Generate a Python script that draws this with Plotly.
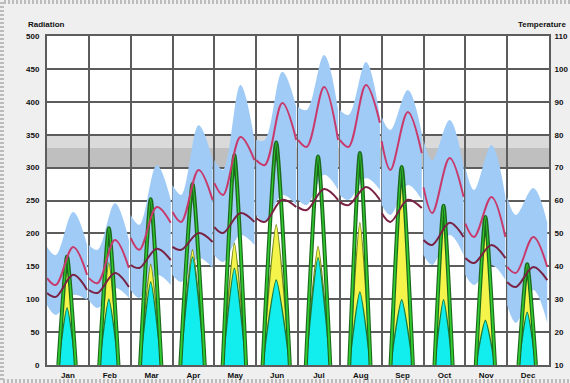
import plotly.graph_objects as go

MONTHS = ["Jan", "Feb", "Mar", "Apr", "May", "Jun",
          "Jul", "Aug", "Sep", "Oct", "Nov", "Dec"]

# Average-day temperatures (deg F) at hours 0, 5, 15 and 23 of each month
TEMP_HOURS = [0, 5, 15, 23]
DRY_BULB = [
    [36.4, 34.3, 45.9, 37.4], [36.4, 34.9, 48.0, 39.5], [48.6, 45.0, 58.0, 53.2],
    [56.5, 53.5, 69.3, 60.2], [65.3, 61.7, 79.3, 72.3], [72.3, 70.8, 89.6, 78.4],
    [78.4, 76.3, 94.5, 78.4], [78.4, 76.3, 95.1, 83.6], [78.0, 69.3, 86.9, 74.4],
    [64.0, 56.2, 72.9, 61.1], [53.0, 48.9, 61.1, 48.9], [39.8, 38.0, 48.9, 39.8],
]
WET_BULB = [
    [31.9, 30.7, 37.4, 32.8], [32.8, 31.9, 38.0, 33.7], [40.4, 39.5, 45.3, 41.9],
    [45.9, 45.0, 50.1, 47.4], [51.9, 50.1, 56.2, 53.5], [54.7, 53.5, 60.2, 58.0],
    [58.0, 57.1, 63.5, 60.2], [59.5, 58.6, 64.1, 60.2], [56.2, 53.5, 60.2, 57.7],
    [48.0, 46.5, 53.2, 48.9], [42.5, 41.0, 46.5, 42.5], [35.2, 33.7, 39.8, 35.8],
]
TEMP_HIGH = [
    [45.9, 43.4, 56.5, 46.5], [46.5, 45.0, 59.2, 48.0], [55.6, 52.6, 70.8, 60.2],
    [64.7, 61.7, 82.9, 72.3], [72.3, 69.3, 95.1, 78.4], [78.4, 78.4, 99.1, 88.4],
    [88.4, 87.5, 104.2, 87.5], [87.5, 86.0, 102.1, 85.4], [85.4, 81.4, 93.6, 80.5],
    [78.4, 72.3, 84.5, 70.2], [70.2, 63.2, 76.9, 61.1], [61.1, 55.6, 63.8, 53.2],
]
TEMP_LOW = [
    [28.2, 25.2, 31.3, 29.8], [29.8, 27.3, 33.4, 30.4], [32.8, 30.4, 37.4, 34.3],
    [37.4, 35.2, 42.5, 39.5], [43.4, 41.3, 49.5, 46.5], [55.6, 53.5, 61.7, 58.6],
    [60.2, 58.6, 67.8, 63.2], [61.7, 60.2, 66.8, 63.2], [58.6, 55.6, 64.7, 60.2],
    [43.4, 40.4, 49.5, 43.4], [37.4, 34.3, 40.4, 35.8], [28.2, 22.8, 32.8, 22.8],
]

# Hourly radiation (Btu/sq.ft) at solar noon, with sunrise / sunset hours
NOON_HOUR = 11.5
SUNRISE = [6.5, 6.0, 5.4, 4.5, 4.8, 3.7, 4.5, 5.4, 5.1, 6.3, 6.0, 6.5]
SUNSET = [16.5, 17.0, 17.6, 18.5, 18.2, 19.3, 18.5, 17.6, 17.9, 16.7, 17.0, 16.5]
DIRECT_NORMAL = [165, 208, 252, 275, 319, 338, 317, 322, 301, 242, 225, 153]
GLOBAL_HORIZ = [147, 155, 153, 175, 185, 213, 180, 216, 290, 230, 215, 133]
DIFFUSE = [87, 100, 126, 164, 147, 129, 163, 111, 99, 99, 68, 80]

# Comfort band (deg F)
COMFORT_LOW, COMFORT_MID, COMFORT_HIGH = 70, 76, 80

RAD_TICKS = list(range(0, 501, 50))
TEMP_TICKS = list(range(10, 111, 10))

fig = go.Figure()


def hour_x(m, hours):
    return [24 * m + h for h in hours]


# temperature range band (bottom layer)
for m in range(12):
    xs = hour_x(m, TEMP_HOURS)
    fig.add_trace(go.Scatter(x=xs, y=TEMP_LOW[m], yaxis="y", mode="lines",
                             line=dict(width=0, shape="spline"),
                             hoverinfo="skip", showlegend=False))
    fig.add_trace(go.Scatter(x=xs, y=TEMP_HIGH[m], yaxis="y", mode="lines",
                             line=dict(width=0, shape="spline"),
                             fill="tonexty", fillcolor="#9fcbf6",
                             hoverinfo="skip", showlegend=False))

# radiation bells (middle layer)
BELL = dict(shape="spline", smoothing=0.55)
for m in range(12):
    bx = hour_x(m, [SUNRISE[m], NOON_HOUR, SUNSET[m]])
    fig.add_trace(go.Scatter(x=bx, y=[0, GLOBAL_HORIZ[m], 0], yaxis="y2",
                             mode="lines", fill="tozeroy", fillcolor="#f4f44a",
                             line=dict(color="#6f8a1c", width=1.5, **BELL),
                             showlegend=False))
    fig.add_trace(go.Scatter(x=bx, y=[0, DIFFUSE[m], 0], yaxis="y2",
                             mode="lines", fill="tozeroy", fillcolor="#12eded",
                             line=dict(color="#1c7a3a", width=1.5, **BELL),
                             showlegend=False))
    fig.add_trace(go.Scatter(x=bx, y=[0, DIRECT_NORMAL[m], 0], yaxis="y2",
                             mode="lines",
                             line=dict(color="#1d6a1d", width=4, **BELL),
                             showlegend=False))
    fig.add_trace(go.Scatter(x=bx, y=[0, DIRECT_NORMAL[m], 0], yaxis="y2",
                             mode="lines",
                             line=dict(color="#30cc30", width=1.8, **BELL),
                             showlegend=False))

# temperature lines (top layer)
for m in range(12):
    xs = hour_x(m, TEMP_HOURS)
    fig.add_trace(go.Scatter(x=xs, y=DRY_BULB[m], yaxis="y3", mode="lines",
                             line=dict(color="#c93a6c", width=2, shape="spline"),
                             showlegend=False))
    fig.add_trace(go.Scatter(x=xs, y=WET_BULB[m], yaxis="y3", mode="lines",
                             line=dict(color="#7a2244", width=2, shape="spline"),
                             showlegend=False))

# comfort band shading
fig.add_shape(type="rect", xref="x", yref="y", x0=0, x1=288,
              y0=COMFORT_MID, y1=COMFORT_HIGH, fillcolor="#dadada",
              line_width=0, layer="below")
fig.add_shape(type="rect", xref="x", yref="y", x0=0, x1=288,
              y0=COMFORT_LOW, y1=COMFORT_MID, fillcolor="#bfbfbf",
              line_width=0, layer="below")

# dotted outer frame (top, left and bottom edges)
L, R, T, B = 47, 21, 36, 18
W, H = 570, 383
pw, ph = W - L - R, H - T - B
fx0, fx1 = (-L + 2) / pw, (W - L) / pw
fy0, fy1 = (-B + 2) / ph, (H - B - 2) / ph
frame_path = (f"M {fx1},{fy1} L {fx0},{fy1} L {fx0},{fy0} L {fx1},{fy0}")
fig.add_shape(type="path", xref="paper", yref="paper", path=frame_path,
              line=dict(color="#bcbcbc", width=4, dash="2px,2px"),
              layer="below")

tick_font = dict(family="Arial, Liberation Sans, sans-serif", size=8,
                 color="#111111", weight="bold")

fig.add_annotation(text="Radiation", xref="paper", yref="paper",
                   x=(27 - L) / pw, y=(H - B - 24.5) / ph, xanchor="left",
                   yanchor="middle", showarrow=False, font=tick_font,
                   borderpad=0)
fig.add_annotation(text="Temperature", xref="paper", yref="paper",
                   x=(517 - L) / pw, y=(H - B - 24.5) / ph, xanchor="left",
                   yanchor="middle", showarrow=False, font=tick_font,
                   borderpad=0)

grid_col = "#5c5c5c"
fig.update_layout(
    width=W, height=H,
    margin=dict(l=L, r=R, t=T, b=B, pad=0, autoexpand=False),
    paper_bgcolor="#efefef", plot_bgcolor="#ffffff",
    showlegend=False,
    xaxis=dict(range=[0, 288], tickvals=[24 * m + 12 for m in range(12)],
               ticktext=MONTHS, tickfont=tick_font, showgrid=False,
               ticks="", ticklabelstandoff=1, zeroline=False,
               showline=True, mirror=True, linecolor=grid_col, linewidth=2,
               minor=dict(tickvals=[24 * m for m in range(13)], showgrid=True,
                          gridcolor=grid_col, gridwidth=1.6, ticks="")),
    yaxis=dict(range=[10, 110], visible=False, showgrid=False),
    yaxis2=dict(range=[0, 500], overlaying="y", side="left",
                tickvals=RAD_TICKS, tickfont=tick_font, showgrid=True,
                gridcolor=grid_col, gridwidth=1.6, zeroline=False,
                ticks="", ticklabelstandoff=4,
                showline=True, linecolor=grid_col, linewidth=2),
    yaxis3=dict(range=[10, 110], overlaying="y", side="right",
                tickvals=TEMP_TICKS, tickfont=tick_font, showgrid=False,
                zeroline=False, ticks="", ticklabelstandoff=2,
                showline=True, linecolor=grid_col, linewidth=2),
)

fig.write_html("out.html")
